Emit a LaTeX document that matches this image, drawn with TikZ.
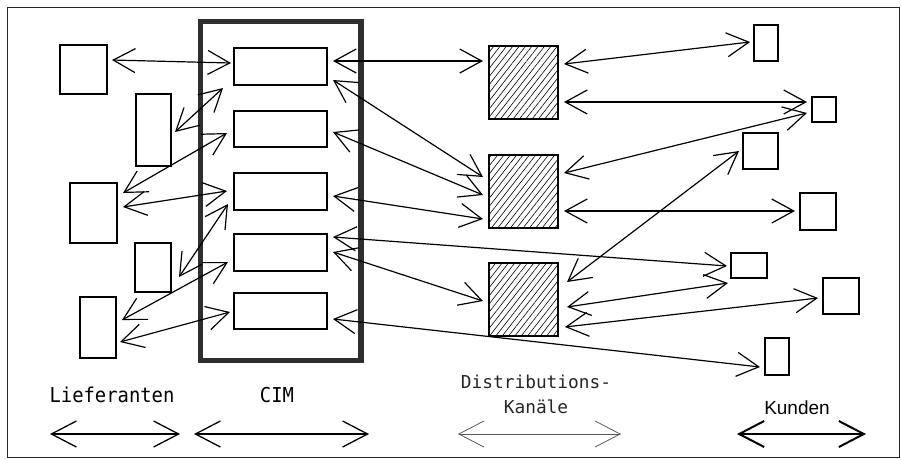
\documentclass[tikz,border=0pt]{standalone}
\usepackage{fontspec}
\newfontfamily\plotfont[FakeStretch=0.92]{DejaVu Sans Mono}
\newfontfamily\distfont{DejaVu Sans Mono}
\newfontfamily\kfont{Liberation Sans}
\usetikzlibrary{arrows.meta,patterns.meta,calc}
\begin{document}
\begin{tikzpicture}[x=1pt,y=-1pt,
  box/.style={draw,line width=1.2pt,inner sep=0pt,outer sep=0pt,anchor=north west},
  dist/.style={box,pattern={Lines[angle=52,distance=5pt,line width=0.6pt]}},
  link/.style={line width=1.2pt,{Straight Barb[length=22pt,width=24pt]}-{Straight Barb[length=22pt,width=24pt]}},
  bigarrow/.style={line width=1.3pt,{Straight Barb[length=25pt,width=26pt]}-{Straight Barb[length=25pt,width=26pt]}},
  lbl/.style={anchor=base,inner sep=0pt,font=\plotfont\fontsize{20.5}{24}\selectfont}
]
\useasboundingbox (0,0) rectangle (901,459);
\draw[line width=0.9pt,black!85] (7,7) rectangle (899,457);

% CIM frame
\node[draw=black!82,line width=5.5pt,minimum width=160.5pt,minimum height=339pt,anchor=north west,inner sep=0pt,outer sep=0pt] (cim) at (200.5,21.5) {};

% Lieferanten
\node[box,minimum width=47pt,minimum height=49pt] (L1) at (60,45) {};
\node[box,minimum width=35pt,minimum height=72pt] (L2) at (136,94) {};
\node[box,minimum width=47pt,minimum height=60pt] (L3) at (70,183) {};
\node[box,minimum width=36pt,minimum height=49pt] (L4) at (135,243) {};
\node[box,minimum width=36pt,minimum height=61pt] (L5) at (80,297) {};

% CIM boxes
\node[box,minimum width=93pt,minimum height=37pt] (C1) at (234,48) {};
\node[box,minimum width=93pt,minimum height=36pt] (C2) at (234,111) {};
\node[box,minimum width=93pt,minimum height=37pt] (C3) at (234,173) {};
\node[box,minimum width=93pt,minimum height=37pt] (C4) at (234,234) {};
\node[box,minimum width=93pt,minimum height=36pt] (C5) at (234,293) {};

% Distribution channels
\node[dist,minimum width=69pt,minimum height=73pt] (D1) at (489,46) {};
\node[dist,minimum width=69pt,minimum height=73pt] (D2) at (489,155) {};
\node[dist,minimum width=69pt,minimum height=73pt] (D3) at (489,263) {};

% Kunden
\node[box,minimum width=24pt,minimum height=36pt] (K1) at (754,25) {};
\node[box,minimum width=24pt,minimum height=25pt] (K2) at (812,97) {};
\node[box,minimum width=35pt,minimum height=36pt] (K3) at (743,133) {};
\node[box,minimum width=36pt,minimum height=37pt] (K4) at (800,193) {};
\node[box,minimum width=36pt,minimum height=25pt] (K5) at (731,253) {};
\node[box,minimum width=36pt,minimum height=36pt] (K6) at (823,278) {};
\node[box,minimum width=24pt,minimum height=37pt] (K7) at (765,338) {};

% Lieferanten <-> CIM
\draw[link] ($(L1.north west)+(52,15)$) -- ($(C1.north west)+(-3,15)$);
\draw[link] ($(L2.north west)+(39,38)$) -- ($(C1.north west)+(-11,40)$);
\draw[link] ($(L3.north west)+(53,10)$) -- ($(C2.north west)+(-7,22)$);
\draw[link] ($(L3.north west)+(53,24)$) -- ($(C3.north west)+(-7,18)$);
\draw[link] ($(L4.north west)+(44,34)$) -- ($(C3.north west)+(-6,31)$);
\draw[link] ($(L5.north west)+(42,23)$) -- ($(C4.north west)+(-6,28)$);
\draw[link] ($(L5.north west)+(40,45)$) -- ($(C5.north west)+(-4,19)$);

% CIM <-> Distribution / Kunden
\draw[link] ($(C1.north east)+(6,13)$) -- ($(D1.north west)+(-6,15)$);
\draw[link] ($(C1.north east)+(6,32)$) -- ($(D2.north west)+(-6,22)$);
\draw[link] ($(C2.north east)+(6,21)$) -- ($(D2.north west)+(-6,40)$);
\draw[link] ($(C3.north east)+(6,23)$) -- ($(D2.north west)+(-6,64)$);
\draw[link] ($(C4.north east)+(6,3)$) -- ($(K5.north west)+(-4,13)$);
\draw[link] ($(C4.north east)+(6,18)$) -- ($(D3.north west)+(-6,38)$);
\draw[link] ($(C5.north east)+(6,26)$) -- ($(K7.north west)+(-5,29)$);

% Distribution <-> Kunden
\draw[link] ($(D1.north east)+(6,18)$) -- ($(K1.north west)+(-4,17)$);
\draw[link] ($(D1.north east)+(6,56)$) -- ($(K2.north west)+(-5,5)$);
\draw[link] ($(D2.north east)+(6,18)$) -- ($(K2.north west)+(-5,16)$);
\draw[link] ($(D2.north east)+(6,56)$) -- ($(K4.north west)+(-5,18)$);
\draw[link] ($(D3.north east)+(9,19)$) -- ($(K3.north west)+(-4,18)$);
\draw[link] ($(D3.north east)+(9,44)$) -- ($(K5.north west)+(-3,30)$);
\draw[link] ($(D3.north east)+(7,64)$) -- ($(K6.north west)+(-5,20)$);

% Labels
\node[lbl] (tL) at (112,402) {Lieferanten};
\node[lbl] (tC) at (277,402) {CIM};
\node[lbl,black!85,font=\distfont\fontsize{17.8}{20}\selectfont] (tD1) at (536,388) {Distributions-};
\node[lbl,black!85,font=\distfont\fontsize{17.8}{20}\selectfont] (tD2) at (536,413) {Kanäle};
\node[lbl,font=\kfont\fontsize{19}{22}\selectfont] (tK) at (797,414) {Kunden};

% Bottom arrows
\coordinate (la) at (50,434); \coordinate (lb) at (180,434);
\coordinate (ca) at (194,434); \coordinate (cb) at (369,434);
\coordinate (da) at (458,434); \coordinate (db) at (621,434);
\coordinate (ka) at (737,434); \coordinate (kb) at (866,434);
\draw[bigarrow] (la) -- (lb);
\draw[bigarrow] (ca) -- (cb);
\draw[bigarrow,line width=0.8pt,black!65] (da) -- (db);
\draw[bigarrow,line width=2pt] (ka) -- (kb);
\end{tikzpicture}
\end{document}
